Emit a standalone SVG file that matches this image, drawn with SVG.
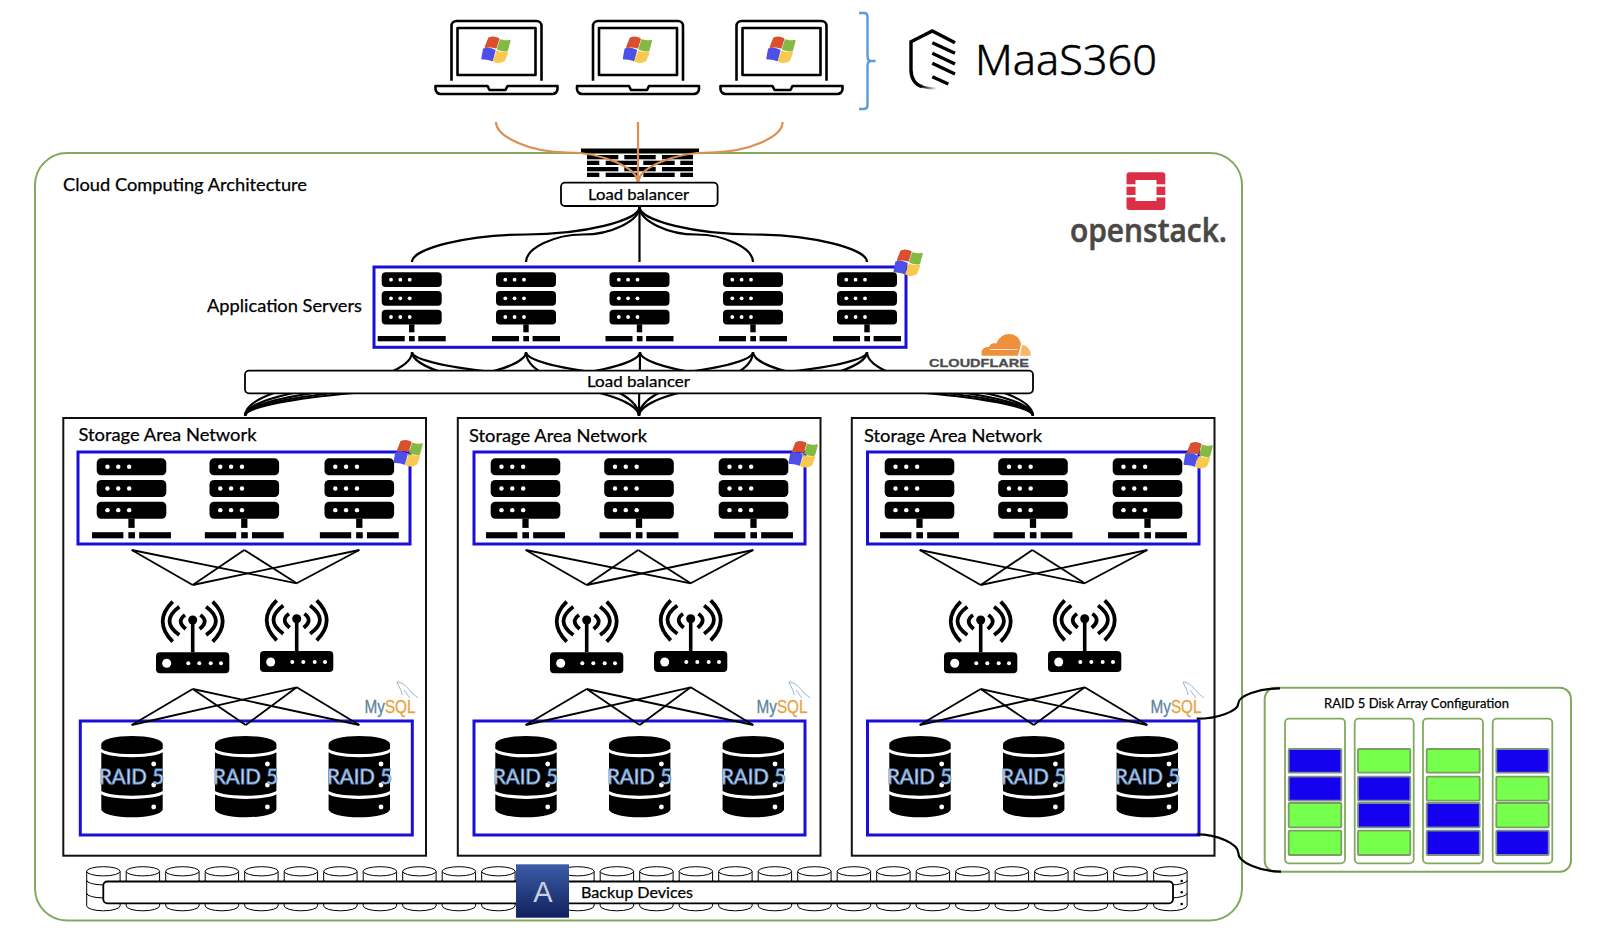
<svg xmlns="http://www.w3.org/2000/svg" width="1600" height="938" viewBox="0 0 1600 938">
<style>
.t{font-family:Lato,"Open Sans","Liberation Sans",sans-serif;fill:#000;stroke:#000;stroke-width:.25}
.green{fill:none;stroke:#82a95e;stroke-width:2}
.blue{fill:none;stroke:#1a0fd8;stroke-width:3}
.san{fill:#fff;stroke:#111;stroke-width:2}
.lb{fill:#fff;stroke:#000;stroke-width:1.8}
.curve{fill:none;stroke:#000;stroke-width:2.2}
.thin{fill:none;stroke:#000;stroke-width:1.8}
.orange{fill:none;stroke:#dd8e52;stroke-width:2.2}
.raid{font-family:Lato,"Liberation Sans",sans-serif;font-size:21px;font-weight:400;fill:#e6eff9;stroke:#5f8fca;stroke-width:.95}
.mysql{font-family:"Liberation Sans",sans-serif;font-size:19px;stroke-width:.3}
.cg{fill:#77ff4d;stroke:#7a9f5e;stroke-width:1.8}
.cb{fill:#1500f0;stroke:#7a8f8a;stroke-width:1.8}
.col{fill:#fff;stroke:#82a95e;stroke-width:1.8}
.lap{fill:none;stroke:#000;stroke-width:2.6;stroke-linejoin:round}
</style>
<defs>
<marker id="oa" markerUnits="userSpaceOnUse" markerWidth="8" markerHeight="10" refX="7.5" refY="3.5" orient="auto"><path d="M0 0L8 3.5L0 7Z" fill="#dd8e52"/></marker>
<g id="win" stroke-width="2" stroke-linejoin="round">
<path d="M-6.8-11.5Q-2-13.5 2.6-11L0-2.5Q-5-4-10.2-3Z" fill="#d9502f" stroke="#d9502f"/>
<path d="M4.8-9.8Q9-8 13.8-9.3L11.2.2Q6.5 1 2.2-1.2Z" fill="#84ba42" stroke="#84ba42"/>
<path d="M-11.8-.7Q-6-2-1.2.6L-3.8 10.2Q-8 8-13.5 8.5Z" fill="#4d50e6" stroke="#4d50e6"/>
<path d="M1.5 1.6Q6 3.5 11.2 2.6L8.2 10.5Q3 13.5-1.8 10.8Z" fill="#f9c84e" stroke="#f9c84e"/>
</g>
<g id="srv">
<rect x="-30" y="0" width="60" height="14.7" rx="4"/>
<rect x="-30" y="18.7" width="60" height="14.7" rx="4"/>
<rect x="-30" y="37.4" width="60" height="14.7" rx="4"/>
<rect x="-2.7" y="52" width="5.4" height="8"/>
<rect x="-34" y="63.7" width="27" height="5.3"/>
<rect x="-2.7" y="63.7" width="5.7" height="5.3"/>
<rect x="6.6" y="63.7" width="27.4" height="5.3"/>
<g fill="#fff">
<circle cx="-20.7" cy="7.35" r="1.9"/><circle cx="-11.4" cy="7.35" r="1.9"/><circle cx="-2" cy="7.35" r="1.9"/>
<circle cx="-20.7" cy="26" r="1.9"/><circle cx="-11.4" cy="26" r="1.9"/><circle cx="-2" cy="26" r="1.9"/>
<circle cx="-20.7" cy="44.7" r="1.9"/><circle cx="-11.4" cy="44.7" r="1.9"/><circle cx="-2" cy="44.7" r="1.9"/>
</g>
</g>
<g id="router">
<rect x="-36.7" y="0" width="73.3" height="21" rx="4"/>
<circle cx="-26" cy="11" r="4.5" fill="#fff"/>
<g fill="#fff"><circle cx="-4.4" cy="11" r="2"/><circle cx="6.6" cy="11" r="2"/><circle cx="18" cy="11" r="2"/><circle cx="28.3" cy="11" r="2"/></g>
<rect x="-1.8" y="-32" width="3.6" height="32"/>
<circle cx="0" cy="-32.3" r="4.5"/>
<g fill="none" stroke="#000" stroke-width="3.8">
<path d="M-20-50.6Q-40-31-20-10.6"/><path d="M-13.4-45.6Q-33-31-13.4-17.3"/><path d="M-7.7-37.3Q-16.6-31-7-23.3"/>
<path d="M20-50.6Q40-31 20-10.6"/><path d="M13.4-45.6Q33-31 13.4-17.3"/><path d="M7.7-37.3Q16.6-31 7-23.3"/>
</g>
</g>
<g id="db">
<path d="M-30.7 8A30.7 8 0 0 1 30.7 8V73.3A30.7 8 0 0 1-30.7 73.3Z"/>
<path d="M-31.5 13A31.5 6.7 0 0 0 31.5 13" fill="none" stroke="#fff" stroke-width="3.2"/>
<path d="M-31.5 55.3A31.5 6 0 0 0 31.5 55.3" fill="none" stroke="#fff" stroke-width="3.2"/>
<g fill="#fff"><circle cx="21.7" cy="28" r="2.4"/><circle cx="21.7" cy="49" r="2.4"/><circle cx="21.7" cy="71" r="2.4"/></g>
</g>
<g id="laptop">
<path class="lap" d="M451.5 80.7V26a5 5 0 0 1 5-5H536.5a5 5 0 0 1 5 5V80.7"/>
<rect class="lap" x="457.5" y="28" width="78" height="47"/>
<path class="lap" d="M435.5 86H487.5L489.5 90H505.5L507.5 86H557.5V89a5 5 0 0 1-5 5H440.5a5 5 0 0 1-5-5Z"/>
<use href="#win" x="495.8" y="50"/>
</g>
<g id="mysql">
<text class="mysql" x="364.5" y="713" textLength="51" lengthAdjust="spacingAndGlyphs"><tspan fill="#5b85a0" stroke="#5b85a0">My</tspan><tspan fill="#e8a33d" stroke="#e8a33d">SQL</tspan></text>
<path d="M397 682C403 682 408 688 412 693L418 698M397 682C399 688 402 690 402 695M404 690C406 692 408 696 410 698" fill="none" stroke="#7d9fc0" stroke-width=".8"/>
</g>
<g id="cyl" fill="#fff" stroke="#000" stroke-width="1">
<path d="M0 5V39.5A16.7 5 0 0 0 33.4 39.5V5Z"/>
<ellipse cx="16.7" cy="5" rx="16.7" ry="4.6"/>
<path d="M0 14A16.7 4.6 0 0 0 33.4 14" fill="none"/>
<path d="M0 27A16.7 4.6 0 0 0 33.4 27" fill="none"/>
</g>
<linearGradient id="acr" x1="0" y1="0" x2="0" y2="1"><stop offset="0" stop-color="#3c5ca8"/><stop offset="1" stop-color="#10215c"/></linearGradient>
<linearGradient id="fade" x1="0" y1="0" x2="1" y2="0"><stop offset="0" stop-color="#000"/><stop offset="1" stop-color="#000" stop-opacity="0"/></linearGradient>
</defs>

<rect width="1600" height="938" fill="#fff"/>

<g id="cloud-frame">
<rect class="green" x="35" y="153" width="1207" height="767.5" rx="32"/>
<text class="t" x="63" y="191" font-size="18" textLength="244" lengthAdjust="spacingAndGlyphs">Cloud Computing Architecture</text>
</g>

<g id="maas360">
<path d="M859 13H864Q867.5 13 867.5 17V56Q867.5 61 871 61H875.6M871 61Q867.5 61 867.5 66V105Q867.5 109 864 109H859" fill="none" stroke="#5b9bd5" stroke-width="2.4"/>
<g fill="none" stroke="#000" stroke-width="3.4">
<path d="M955 42.7L932.3 31L911 41.7V70C911 78 915 85 922 86.5"/>
<path d="M932.3 42.7L955 53.3M932.3 53.3L955 64M932.3 63.3L955 74M932.3 76.7L948.3 84"/>
</g>
<path d="M921 86C926 88 931 88.5 937 88.5" fill="none" stroke="url(#fade)" stroke-width="2"/>
<text x="975" y="75" font-family="'Noto Sans',Inter,sans-serif" font-weight="300" font-size="42" textLength="182" lengthAdjust="spacingAndGlyphs" fill="#000" stroke="#000" stroke-width=".5">MaaS360</text>
</g>

<g id="laptop-1"><use href="#laptop"/></g>
<g id="laptop-2"><use href="#laptop" x="141.5"/></g>
<g id="laptop-3"><use href="#laptop" x="285"/></g>

<g id="firewall">
<rect x="581" y="148.5" width="118" height="4.7"/>
<rect x="587" y="155" width="31.3" height="4.3"/><rect x="624.3" y="155" width="31.4" height="4.3"/><rect x="662" y="155" width="31" height="4.3"/>
<rect x="587" y="160.7" width="12.3" height="4.3"/><rect x="605.7" y="160.7" width="31.3" height="4.3"/><rect x="643.3" y="160.7" width="31.4" height="4.3"/><rect x="680.3" y="160.7" width="12.7" height="4.3"/>
<rect x="587" y="167" width="31.3" height="4.3"/><rect x="624.3" y="167" width="31.4" height="4.3"/><rect x="662" y="167" width="31" height="4.3"/>
<rect x="587" y="172.7" width="12.3" height="4.3"/><rect x="605.7" y="172.7" width="31.3" height="4.3"/><rect x="643.3" y="172.7" width="31.4" height="4.3"/><rect x="680.3" y="172.7" width="12.7" height="4.3"/>
</g>

<g id="san-frame-1">
<rect class="san" x="63.3" y="418" width="362.7" height="437.7"/>
<text class="t" x="78.5" y="441" font-size="18" textLength="178" lengthAdjust="spacingAndGlyphs">Storage Area Network</text>
<rect class="blue" x="78" y="452" width="332" height="92"/>
<rect class="blue" x="80.3" y="721" width="332" height="114"/>
</g>
<g id="san-frame-2">
<rect class="san" x="457.8" y="418" width="362.7" height="437.7"/>
<text class="t" x="469" y="442" font-size="18" textLength="178" lengthAdjust="spacingAndGlyphs">Storage Area Network</text>
<rect class="blue" x="474" y="452" width="331" height="92"/>
<rect class="blue" x="474" y="721" width="331" height="114"/>
</g>
<g id="san-frame-3">
<rect class="san" x="851.8" y="418" width="362.7" height="437.7"/>
<text class="t" x="864" y="442" font-size="18" textLength="178" lengthAdjust="spacingAndGlyphs">Storage Area Network</text>
<rect class="blue" x="867.5" y="452" width="331.5" height="92"/>
<rect class="blue" x="867.5" y="721" width="331.5" height="114"/>
</g>

<g id="raid-panel">
<rect class="green" x="1264.7" y="687.7" width="306.3" height="184" rx="11"/>
<text class="t" x="1324" y="707.7" font-size="13" textLength="185" lengthAdjust="spacingAndGlyphs">RAID 5 Disk Array Configuration</text>
<rect class="col" x="1285" y="718.7" width="60" height="144.6" rx="4"/>
<rect class="col" x="1354.7" y="718.7" width="59" height="144.6" rx="4"/>
<rect class="col" x="1423" y="718.7" width="60" height="144.6" rx="4"/>
<rect class="col" x="1492.7" y="718.7" width="59.6" height="144.6" rx="4"/>
<rect class="cb" x="1288.7" y="749" width="52.6" height="23.7" rx="1"/><rect class="cb" x="1288.7" y="776.7" width="52.6" height="24" rx="1"/><rect class="cg" x="1288.7" y="803" width="52.6" height="24.3" rx="1"/><rect class="cg" x="1288.7" y="830.7" width="52.6" height="24.3" rx="1"/>
<rect class="cg" x="1358" y="749" width="52.3" height="23.7" rx="1"/><rect class="cb" x="1358" y="776.7" width="52.3" height="24" rx="1"/><rect class="cb" x="1358" y="803" width="52.3" height="24.3" rx="1"/><rect class="cg" x="1358" y="830.7" width="52.3" height="24.3" rx="1"/>
<rect class="cg" x="1426.7" y="749" width="53" height="23.7" rx="1"/><rect class="cg" x="1426.7" y="776.7" width="53" height="24" rx="1"/><rect class="cb" x="1426.7" y="803" width="53" height="24.3" rx="1"/><rect class="cb" x="1426.7" y="830.7" width="53" height="24.3" rx="1"/>
<rect class="cb" x="1496.3" y="749" width="52.4" height="23.7" rx="1"/><rect class="cg" x="1496.3" y="776.7" width="52.4" height="24" rx="1"/><rect class="cg" x="1496.3" y="803" width="52.4" height="24.3" rx="1"/><rect class="cb" x="1496.3" y="830.7" width="52.4" height="24.3" rx="1"/>
</g>

<g id="connectors">
<g id="orange-links">
<path class="orange" marker-end="url(#oa)" d="M496 122C496 137.25 531.5 152.5 567 152.5C602.5 152.5 638 167.75 638 183"/>
<path class="orange" marker-end="url(#oa)" d="M782.6 122C782.6 137.25 746.9 152.5 710.3 152.5C674.3 152.5 638 167.75 638 183"/>
<path class="orange" marker-end="url(#oa)" d="M638 122V183"/>
</g>
<g id="lb1-to-app">
<path class="curve" d="M639.5 207C639.5 220.75 582.6 234.5 525.75 234.5C468.9 234.5 412 248.25 412 262"/>
<path class="curve" d="M639.5 207C639.5 220.75 611.1 234.5 582.75 234.5C554.4 234.5 526 248.25 526 262"/>
<path class="curve" d="M639.5 207V262"/>
<path class="curve" d="M639.5 207C639.5 220.75 667.9 234.5 696.25 234.5C724.6 234.5 753 248.25 753 262"/>
<path class="curve" d="M639.5 207C639.5 220.75 696.4 234.5 753.25 234.5C810.1 234.5 867 248.25 867 262"/>
</g>
<g id="app-to-san">
<path class="curve" d="M412 352C412 368 370.25 384 328.5 384C286.75 384 245 400 245 416"/>
<path class="curve" d="M412 352C412 368 468.75 384 525.5 384C582.25 384 639 400 639 416"/>
<path class="curve" d="M412 352C412 368 567.25 384 722.5 384C877.75 384 1033 400 1033 416"/>
<path class="curve" d="M526 352C526 368 455.75 384 385.5 384C315.25 384 245 400 245 416"/>
<path class="curve" d="M526 352C526 368 554.25 384 582.5 384C610.75 384 639 400 639 416"/>
<path class="curve" d="M526 352C526 368 652.75 384 779.5 384C906.25 384 1033 400 1033 416"/>
<path class="curve" d="M640 352C640 368 541.25 384 442.5 384C343.75 384 245 400 245 416"/>
<path class="curve" d="M640 352C640 368 639.75 384 639.5 384C639.25 384 639 400 639 416"/>
<path class="curve" d="M640 352C640 368 738.25 384 836.5 384C934.75 384 1033 400 1033 416"/>
<path class="curve" d="M753 352C753 368 626 384 499 384C372 384 245 400 245 416"/>
<path class="curve" d="M753 352C753 368 724.5 384 696 384C667.5 384 639 400 639 416"/>
<path class="curve" d="M753 352C753 368 823 384 893 384C963 384 1033 400 1033 416"/>
<path class="curve" d="M867 352C867 368 711.5 384 556 384C400.5 384 245 400 245 416"/>
<path class="curve" d="M867 352C867 368 810 384 753 384C696 384 639 400 639 416"/>
<path class="curve" d="M867 352C867 368 908.5 384 950 384C991.5 384 1033 400 1033 416"/>
</g>
<g id="san-1-links">
<path class="thin" d="M131.7 550L192.7 585"/><path class="thin" d="M131.7 550L296.7 583.3"/><path class="thin" d="M244.3 550L192.7 585"/><path class="thin" d="M244.3 550L296.7 583.3"/><path class="thin" d="M359.3 550L192.7 585"/><path class="thin" d="M359.3 550L296.7 583.3"/>
<path class="thin" d="M192.7 689L131.7 725"/><path class="thin" d="M192.7 689L245.7 725"/><path class="thin" d="M192.7 689L359.3 725"/><path class="thin" d="M296.7 687.3L131.7 725"/><path class="thin" d="M296.7 687.3L245.7 725"/><path class="thin" d="M296.7 687.3L359.3 725"/>
</g>
<g id="san-2-links">
<path class="thin" d="M525.7 550L586.7 585"/><path class="thin" d="M525.7 550L690.7 583.3"/><path class="thin" d="M638.3 550L586.7 585"/><path class="thin" d="M638.3 550L690.7 583.3"/><path class="thin" d="M753.3 550L586.7 585"/><path class="thin" d="M753.3 550L690.7 583.3"/>
<path class="thin" d="M586.7 689L525.7 725"/><path class="thin" d="M586.7 689L639.7 725"/><path class="thin" d="M586.7 689L753.3 725"/><path class="thin" d="M690.7 687.3L525.7 725"/><path class="thin" d="M690.7 687.3L639.7 725"/><path class="thin" d="M690.7 687.3L753.3 725"/>
</g>
<g id="san-3-links">
<path class="thin" d="M919.7 550L980.7 585"/><path class="thin" d="M919.7 550L1084.7 583.3"/><path class="thin" d="M1032.3 550L980.7 585"/><path class="thin" d="M1032.3 550L1084.7 583.3"/><path class="thin" d="M1147.3 550L980.7 585"/><path class="thin" d="M1147.3 550L1084.7 583.3"/>
<path class="thin" d="M980.7 689L919.7 725"/><path class="thin" d="M980.7 689L1033.7 725"/><path class="thin" d="M980.7 689L1147.3 725"/><path class="thin" d="M1084.7 687.3L919.7 725"/><path class="thin" d="M1084.7 687.3L1033.7 725"/><path class="thin" d="M1084.7 687.3L1147.3 725"/>
</g>
<g id="raid-callout">
<path class="curve" d="M1196.7 718.7C1217.5 718.7 1238.3 711 1238.3 703.5C1238.3 696 1259 688.3 1280 688.3"/>
<path class="curve" d="M1196.7 834.3C1217.5 834.3 1238.3 843.7 1238.3 853C1238.3 862.3 1259.7 871.7 1281 871.7"/>
</g>
</g>

<g id="lb-top">
<rect class="lb" x="561" y="182.7" width="156.6" height="23.3" rx="4"/>
<text class="t" x="588" y="200.3" font-size="15" textLength="101" lengthAdjust="spacingAndGlyphs">Load balancer</text>
</g>
<g id="lb-middle">
<rect class="lb" x="245" y="370.7" width="788" height="22.6" rx="4"/>
<text class="t" x="587" y="387.3" font-size="15" textLength="103" lengthAdjust="spacingAndGlyphs">Load balancer</text>
</g>

<g id="openstack">
<rect x="1126.5" y="172.3" width="38.8" height="37.7" rx="3" fill="#da2f47"/>
<rect x="1135.5" y="180" width="21" height="21" fill="#fff"/>
<rect x="1126" y="184.3" width="39.8" height="2.4" fill="#fff"/>
<rect x="1126" y="195" width="39.8" height="2.4" fill="#fff"/>
<text x="1070" y="241.5" font-family="'Open Sans',sans-serif" font-weight="600" font-size="33" textLength="157" lengthAdjust="spacingAndGlyphs" fill="#4a4845" stroke="#4a4845" stroke-width=".6">openstack.</text>
</g>

<g id="app-servers">
<text class="t" x="207" y="312" font-size="18" textLength="155" lengthAdjust="spacingAndGlyphs">Application Servers</text>
<rect class="blue" x="374" y="267" width="532" height="80.3"/>
<g id="app-server-1"><use href="#srv" x="411.7" y="272.3"/></g>
<g id="app-server-2"><use href="#srv" x="526" y="272.3"/></g>
<g id="app-server-3"><use href="#srv" x="639.5" y="272.3"/></g>
<g id="app-server-4"><use href="#srv" x="753" y="272.3"/></g>
<g id="app-server-5"><use href="#srv" x="867" y="272.3"/></g>
<use href="#win" x="908" y="263"/>
</g>

<g id="cloudflare">
<path d="M982 355.7C980 350 984 346.5 989 347C990 344 993 342.5 996.5 343.5C999 337 1004 334 1009 334C1016 334 1020 338.5 1021 344L1018 355.7Z" fill="#f0903a"/>
<path d="M1020 355.7L1022 345C1027 345 1031 350 1030.7 355.7Z" fill="#f8b668"/>
<path d="M990 349.5H1017" stroke="#fff" stroke-width=".8"/>
<text x="929" y="367" font-family="'Liberation Sans',sans-serif" font-weight="700" font-size="11" textLength="100" lengthAdjust="spacingAndGlyphs" fill="#4d4d4f" stroke="#4d4d4f" stroke-width=".3">CLOUDFLARE</text>
</g>

<g id="san-1">
<g id="san-1-server-1" transform="translate(131.5 458.3) scale(1.16)"><use href="#srv"/></g>
<g id="san-1-server-2" transform="translate(244.3 458.3) scale(1.16)"><use href="#srv"/></g>
<g id="san-1-server-3" transform="translate(359.3 458.3) scale(1.16)"><use href="#srv"/></g>
<use href="#win" x="408" y="453.5"/>
<g id="san-1-router-1"><use href="#router" x="192.7" y="652.3"/></g>
<g id="san-1-router-2"><use href="#router" x="296.7" y="651"/></g>
<use href="#mysql"/>
<g id="san-1-db-1"><use href="#db" x="132" y="736"/><text class="raid" x="99" y="784.3" textLength="65" lengthAdjust="spacingAndGlyphs">RAID 5</text></g>
<g id="san-1-db-2"><use href="#db" x="245.7" y="736"/><text class="raid" x="213" y="784.3" textLength="65" lengthAdjust="spacingAndGlyphs">RAID 5</text></g>
<g id="san-1-db-3"><use href="#db" x="359.3" y="736"/><text class="raid" x="327" y="784.3" textLength="65" lengthAdjust="spacingAndGlyphs">RAID 5</text></g>
</g>
<g id="san-2">
<g id="san-2-server-1" transform="translate(525.5 458.3) scale(1.16)"><use href="#srv"/></g>
<g id="san-2-server-2" transform="translate(639 458.3) scale(1.16)"><use href="#srv"/></g>
<g id="san-2-server-3" transform="translate(753.5 458.3) scale(1.16)"><use href="#srv"/></g>
<use href="#win" x="803" y="454.5"/>
<g id="san-2-router-1"><use href="#router" x="586.7" y="652.3"/></g>
<g id="san-2-router-2"><use href="#router" x="690.7" y="651"/></g>
<use href="#mysql" x="392"/>
<g id="san-2-db-1"><use href="#db" x="526" y="736"/><text class="raid" x="493" y="784.3" textLength="65" lengthAdjust="spacingAndGlyphs">RAID 5</text></g>
<g id="san-2-db-2"><use href="#db" x="639.7" y="736"/><text class="raid" x="607" y="784.3" textLength="65" lengthAdjust="spacingAndGlyphs">RAID 5</text></g>
<g id="san-2-db-3"><use href="#db" x="753.3" y="736"/><text class="raid" x="721" y="784.3" textLength="65" lengthAdjust="spacingAndGlyphs">RAID 5</text></g>
</g>
<g id="san-3">
<g id="san-3-server-1" transform="translate(919.5 458.3) scale(1.16)"><use href="#srv"/></g>
<g id="san-3-server-2" transform="translate(1033 458.3) scale(1.16)"><use href="#srv"/></g>
<g id="san-3-server-3" transform="translate(1147.5 458.3) scale(1.16)"><use href="#srv"/></g>
<use href="#win" x="1198" y="455.5"/>
<g id="san-3-router-1"><use href="#router" x="980.7" y="652.3"/></g>
<g id="san-3-router-2"><use href="#router" x="1084.7" y="651"/></g>
<use href="#mysql" x="786"/>
<g id="san-3-db-1"><use href="#db" x="920" y="736"/><text class="raid" x="887" y="784.3" textLength="65" lengthAdjust="spacingAndGlyphs">RAID 5</text></g>
<g id="san-3-db-2"><use href="#db" x="1033.7" y="736"/><text class="raid" x="1001" y="784.3" textLength="65" lengthAdjust="spacingAndGlyphs">RAID 5</text></g>
<g id="san-3-db-3"><use href="#db" x="1147.3" y="736"/><text class="raid" x="1115" y="784.3" textLength="65" lengthAdjust="spacingAndGlyphs">RAID 5</text></g>
</g>

<g id="backup">
<use href="#cyl" x="86.7" y="866.3"/><use href="#cyl" x="126.2" y="866.3"/><use href="#cyl" x="165.7" y="866.3"/><use href="#cyl" x="205.2" y="866.3"/><use href="#cyl" x="244.7" y="866.3"/><use href="#cyl" x="284.2" y="866.3"/><use href="#cyl" x="323.7" y="866.3"/><use href="#cyl" x="363.2" y="866.3"/><use href="#cyl" x="402.7" y="866.3"/><use href="#cyl" x="442.2" y="866.3"/><use href="#cyl" x="481.7" y="866.3"/><use href="#cyl" x="521.2" y="866.3"/><use href="#cyl" x="560.7" y="866.3"/><use href="#cyl" x="600.2" y="866.3"/><use href="#cyl" x="639.7" y="866.3"/><use href="#cyl" x="679.2" y="866.3"/><use href="#cyl" x="718.7" y="866.3"/><use href="#cyl" x="758.2" y="866.3"/><use href="#cyl" x="797.7" y="866.3"/><use href="#cyl" x="837.2" y="866.3"/><use href="#cyl" x="876.7" y="866.3"/><use href="#cyl" x="916.2" y="866.3"/><use href="#cyl" x="955.7" y="866.3"/><use href="#cyl" x="995.2" y="866.3"/><use href="#cyl" x="1034.7" y="866.3"/><use href="#cyl" x="1074.2" y="866.3"/><use href="#cyl" x="1113.7" y="866.3"/><use href="#cyl" x="1153.7" y="866.3"/>
<circle cx="1181.7" cy="881" r="1.3"/><circle cx="1181.7" cy="892.3" r="1.3"/><circle cx="1181.7" cy="904" r="1.3"/>
<rect x="103.3" y="881.5" width="1069.7" height="21.8" rx="4" fill="#fff" stroke="#000" stroke-width="1.8"/>
<text class="t" x="581" y="898.3" font-size="15.5" textLength="112" lengthAdjust="spacingAndGlyphs">Backup Devices</text>
<rect x="516" y="864.3" width="53" height="53.4" fill="url(#acr)"/>
<text x="543" y="901.7" font-family="'Liberation Sans',sans-serif" font-size="29" text-anchor="middle" fill="#c9d0de">A</text>
</g>
</svg>
